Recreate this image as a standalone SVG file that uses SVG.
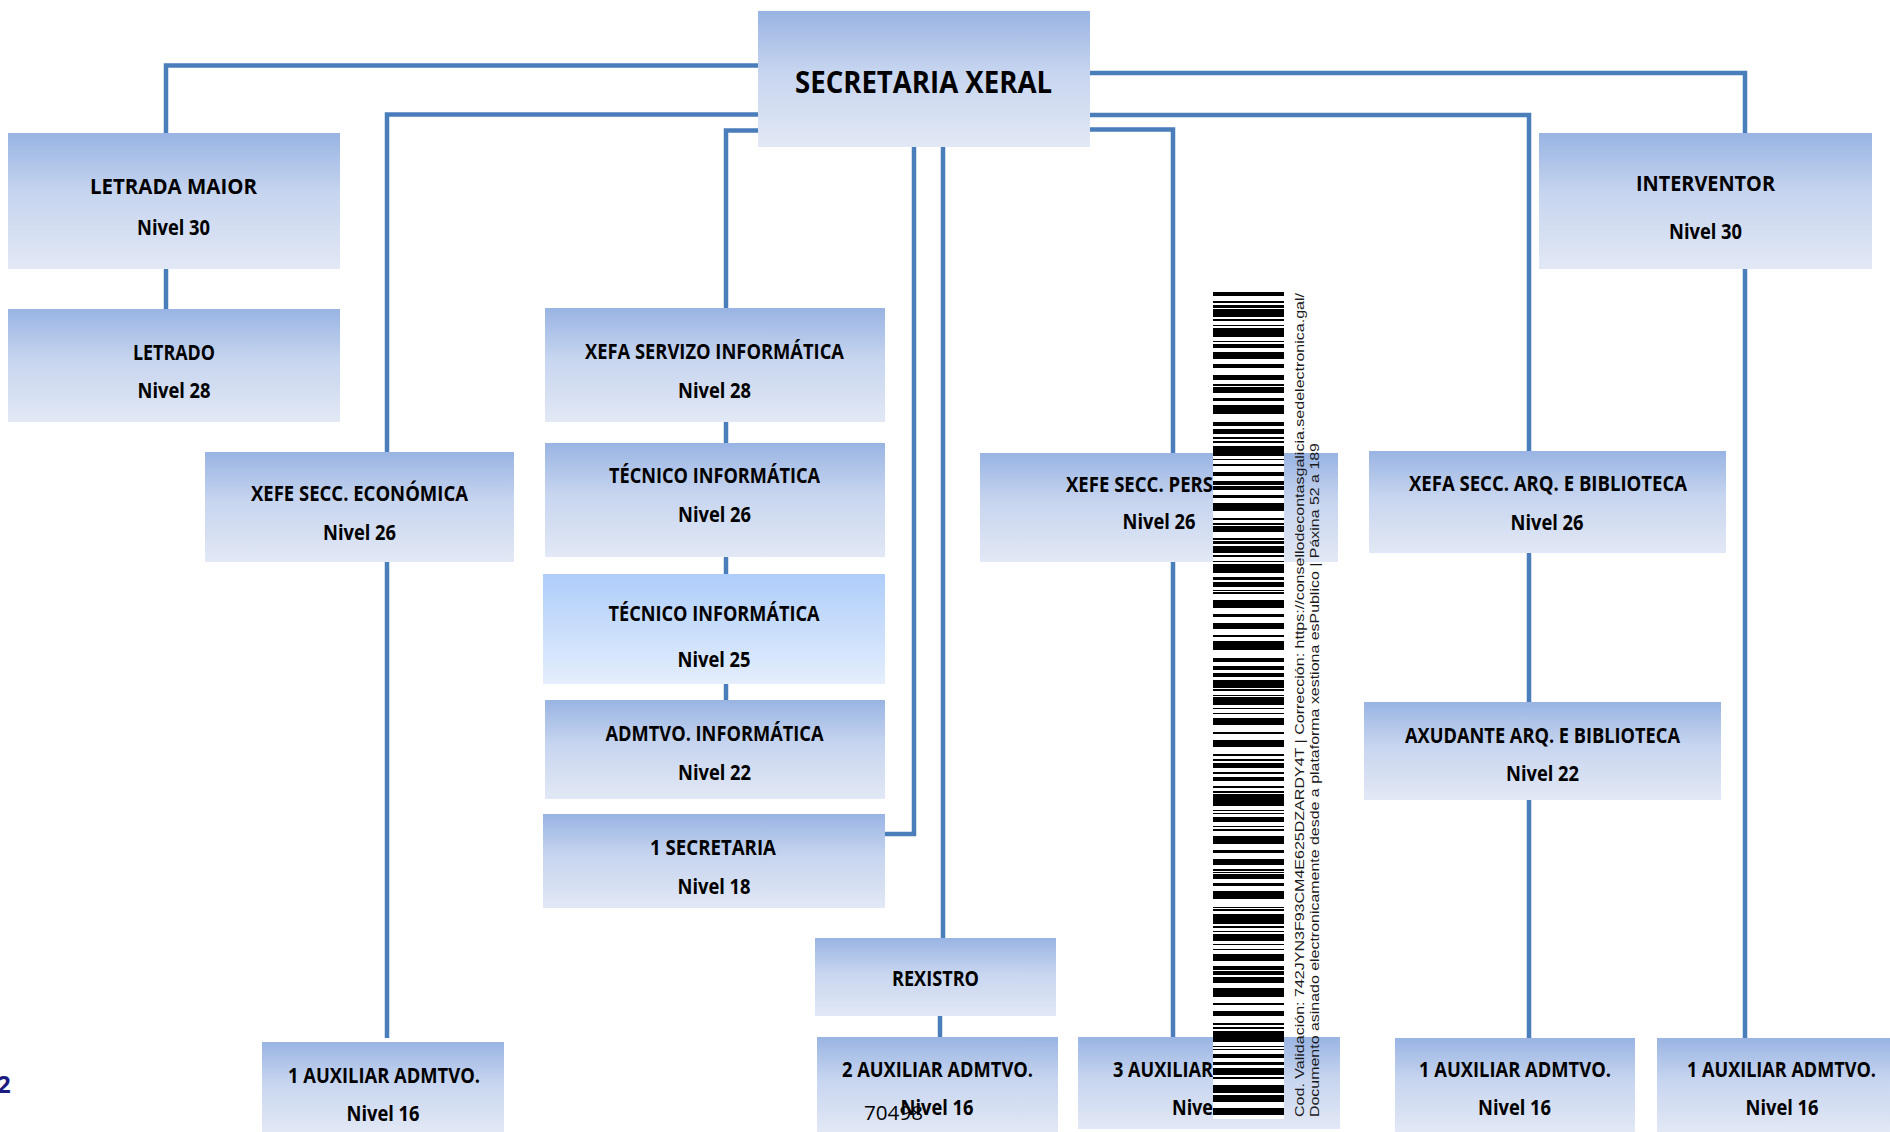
<svg xmlns="http://www.w3.org/2000/svg" width="1890" height="1132" viewBox="0 0 1890 1132">
<defs>
<linearGradient id="g" x1="0" y1="0" x2="0" y2="1">
<stop offset="0" stop-color="#99b4e3"/><stop offset="0.45" stop-color="#c7d5ef"/><stop offset="1" stop-color="#e2e8f5"/>
</linearGradient>
<linearGradient id="g2" x1="0" y1="0" x2="0" y2="1">
<stop offset="0" stop-color="#aecdfa"/><stop offset="1" stop-color="#e4eefc"/>
</linearGradient>
<pattern id="pa" patternUnits="userSpaceOnUse" x="1213" y="292" width="71" height="97">
<rect x="0" y="0" width="71" height="4"/><rect x="0" y="9" width="71" height="2"/><rect x="0" y="17" width="71" height="8"/><rect x="0" y="33" width="71" height="1"/><rect x="0" y="40" width="71" height="5"/><rect x="0" y="52" width="71" height="2"/><rect x="0" y="60" width="71" height="7"/><rect x="0" y="75" width="71" height="1"/><rect x="0" y="83" width="71" height="4"/><rect x="0" y="92" width="71" height="2"/>
</pattern>
<pattern id="pb" patternUnits="userSpaceOnUse" x="1213" y="292" width="71" height="59">
<rect x="0" y="3" width="71" height="1"/><rect x="0" y="13" width="71" height="3"/><rect x="0" y="27" width="71" height="2"/><rect x="0" y="36" width="71" height="6"/><rect x="0" y="49" width="71" height="1"/><rect x="0" y="54" width="71" height="2"/>
</pattern>
</defs>
<style>
.box{fill:url(#g)}
.box2{fill:url(#g2)}
.t{font-family:"Open Sans","Liberation Sans",sans-serif;font-weight:700;font-size:21px;fill:#000;text-anchor:middle}
.ts{font-family:"Open Sans","Liberation Sans",sans-serif;font-weight:700;font-size:21px;fill:#000;text-anchor:start}
.c{fill:none;stroke:#4a7ebb;stroke-width:4.5;stroke-linejoin:miter}
.bc{font-family:"Liberation Sans",Arial,sans-serif;font-size:13.5px;fill:#1a1a1a}
</style>
<rect width="1890" height="1132" fill="#fff"/>
<g id="connectors">
<path class="c" d="M758 65.5 H166 V133"/>
<path class="c" d="M758 114.5 H387 V452"/>
<path class="c" d="M758 130.5 H726 V308"/>
<path class="c" d="M1090 73 H1745 V133"/>
<path class="c" d="M1090 115 H1529 V451"/>
<path class="c" d="M1090 129.5 H1173 V453"/>
<path class="c" d="M166 269 V309"/>
<path class="c" d="M387 562 V1038"/>
<path class="c" d="M726 422 V443 M726 557 V574 M726 684 V700"/>
<path class="c" d="M914 147 V834 H885"/>
<path class="c" d="M943 147 V938"/>
<path class="c" d="M940 1016 V1037"/>
<path class="c" d="M1173 562 V1037"/>
<path class="c" d="M1529 553 V702 M1529 800 V1038"/>
<path class="c" d="M1745 269 V1038"/>
</g>
<g id="secretaria-xeral"><rect class="box" x="758" y="11" width="332" height="136"/><text class="t" x="923.5" y="93" style="font-size:30px" textLength="257" lengthAdjust="spacingAndGlyphs">SECRETARIA XERAL</text></g>
<g id="letrada-maior"><rect class="box" x="8" y="133" width="332" height="136"/><text class="t" x="173.5" y="194" textLength="167" lengthAdjust="spacingAndGlyphs">LETRADA MAIOR</text><text class="t" x="173.5" y="235" textLength="73" lengthAdjust="spacingAndGlyphs">Nivel 30</text></g>
<g id="letrado"><rect class="box" x="8" y="309" width="332" height="113"/><text class="t" x="174" y="360" textLength="82" lengthAdjust="spacingAndGlyphs">LETRADO</text><text class="t" x="174" y="398" textLength="73" lengthAdjust="spacingAndGlyphs">Nivel 28</text></g>
<g id="xefe-secc-economica"><rect class="box" x="205" y="452" width="309" height="110"/><text class="t" x="359.5" y="501" textLength="217" lengthAdjust="spacingAndGlyphs">XEFE SECC. ECONÓMICA</text><text class="t" x="359.5" y="540" textLength="73" lengthAdjust="spacingAndGlyphs">Nivel 26</text></g>
<g id="xefa-servizo-informatica"><rect class="box" x="545" y="308" width="340" height="114"/><text class="t" x="714.5" y="359" textLength="259" lengthAdjust="spacingAndGlyphs">XEFA SERVIZO INFORMÁTICA</text><text class="t" x="714.5" y="398" textLength="73" lengthAdjust="spacingAndGlyphs">Nivel 28</text></g>
<g id="tecnico-informatica-26"><rect class="box" x="545" y="443" width="340" height="114"/><text class="t" x="714.5" y="483" textLength="211" lengthAdjust="spacingAndGlyphs">TÉCNICO INFORMÁTICA</text><text class="t" x="714.5" y="522" textLength="73" lengthAdjust="spacingAndGlyphs">Nivel 26</text></g>
<g id="tecnico-informatica-25"><rect class="box2" x="543" y="574" width="342" height="110"/><text class="t" x="714" y="621" textLength="211" lengthAdjust="spacingAndGlyphs">TÉCNICO INFORMÁTICA</text><text class="t" x="714" y="667" textLength="73" lengthAdjust="spacingAndGlyphs">Nivel 25</text></g>
<g id="admtvo-informatica"><rect class="box" x="545" y="700" width="340" height="99"/><text class="t" x="714.5" y="741" textLength="218" lengthAdjust="spacingAndGlyphs">ADMTVO. INFORMÁTICA</text><text class="t" x="714.5" y="780" textLength="73" lengthAdjust="spacingAndGlyphs">Nivel 22</text></g>
<g id="secretaria-1"><rect class="box" x="543" y="814" width="342" height="94"/><text class="t" x="713" y="855" textLength="126" lengthAdjust="spacingAndGlyphs">1 SECRETARIA</text><text class="t" x="714" y="893.5" textLength="73" lengthAdjust="spacingAndGlyphs">Nivel 18</text></g>
<g id="interventor"><rect class="box" x="1539" y="133" width="333" height="136"/><text class="t" x="1705.5" y="191" textLength="139" lengthAdjust="spacingAndGlyphs">INTERVENTOR</text><text class="t" x="1705.5" y="239" textLength="73" lengthAdjust="spacingAndGlyphs">Nivel 30</text></g>
<g id="xefe-secc-pers"><rect class="box" x="980" y="453" width="358" height="109"/><text class="ts" x="1066" y="492" textLength="147" lengthAdjust="spacingAndGlyphs">XEFE SECC. PERS</text><text class="t" x="1159" y="529" textLength="73" lengthAdjust="spacingAndGlyphs">Nivel 26</text></g>
<g id="xefa-secc-arq"><rect class="box" x="1369" y="451" width="357" height="102"/><text class="t" x="1548" y="491" textLength="278" lengthAdjust="spacingAndGlyphs">XEFA SECC. ARQ. E BIBLIOTECA</text><text class="t" x="1547" y="530" textLength="73" lengthAdjust="spacingAndGlyphs">Nivel 26</text></g>
<g id="axudante-arq"><rect class="box" x="1364" y="702" width="357" height="98"/><text class="t" x="1542.5" y="743" textLength="275" lengthAdjust="spacingAndGlyphs">AXUDANTE ARQ. E BIBLIOTECA</text><text class="t" x="1542.5" y="781" textLength="73" lengthAdjust="spacingAndGlyphs">Nivel 22</text></g>
<g id="rexistro"><rect class="box" x="815" y="938" width="241" height="78"/><text class="t" x="935.5" y="986" textLength="87" lengthAdjust="spacingAndGlyphs">REXISTRO</text></g>
<g id="auxiliar-economica"><rect class="box" x="262" y="1042" width="242" height="90"/><text class="t" x="384" y="1083" textLength="192" lengthAdjust="spacingAndGlyphs">1 AUXILIAR ADMTVO.</text><text class="t" x="383" y="1121" textLength="73" lengthAdjust="spacingAndGlyphs">Nivel 16</text></g>
<g id="auxiliar-rexistro"><rect class="box" x="817" y="1037" width="241" height="95"/><text class="t" x="937.5" y="1077" textLength="191" lengthAdjust="spacingAndGlyphs">2 AUXILIAR ADMTVO.</text><text class="t" x="937" y="1115" textLength="73" lengthAdjust="spacingAndGlyphs">Nivel 16</text></g>
<g id="auxiliar-persoal"><rect class="box" x="1078" y="1037" width="262" height="92"/><text class="ts" x="1113" y="1077" textLength="100" lengthAdjust="spacingAndGlyphs">3 AUXILIAR</text><text class="ts" x="1172" y="1115" textLength="41" lengthAdjust="spacingAndGlyphs">Nive</text></g>
<g id="auxiliar-arquivo"><rect class="box" x="1395" y="1038" width="240" height="94"/><text class="t" x="1515" y="1077" textLength="192" lengthAdjust="spacingAndGlyphs">1 AUXILIAR ADMTVO.</text><text class="t" x="1514.5" y="1115" textLength="73" lengthAdjust="spacingAndGlyphs">Nivel 16</text></g>
<g id="auxiliar-intervencion"><rect class="box" x="1657" y="1038" width="233" height="94"/><text class="t" x="1781.5" y="1077" textLength="189" lengthAdjust="spacingAndGlyphs">1 AUXILIAR ADMTVO.</text><text class="t" x="1782" y="1115" textLength="73" lengthAdjust="spacingAndGlyphs">Nivel 16</text></g>
<text x="864" y="1120" style="font-family:'Open Sans','Liberation Sans',sans-serif;font-size:20px;fill:#000" textLength="59" lengthAdjust="spacingAndGlyphs">70498</text>
<text x="-3" y="1093" style="font-family:'Open Sans','Liberation Sans',sans-serif;font-weight:700;font-size:24px;fill:#1b1b80">2</text>
<g id="barcode">
<rect x="1213" y="292" width="71" height="827" fill="#fff"/>
<rect x="1213" y="292" width="71" height="827" fill="url(#pa)"/>
<rect x="1213" y="292" width="71" height="827" fill="url(#pb)"/>
<text class="bc" transform="translate(1304 1117) rotate(-90)" textLength="824" lengthAdjust="spacingAndGlyphs">Cod. Validación: 742JYN3F93CM4E625DZARDY4T | Corrección: https://consellodecontasgalicia.sedelectronica.gal/</text>
<text class="bc" transform="translate(1319 1117) rotate(-90)" textLength="674" lengthAdjust="spacingAndGlyphs">Documento asinado electronicamente desde a plataforma xestiona esPublico | Páxina 52 a 189</text>
</g>
</svg>
